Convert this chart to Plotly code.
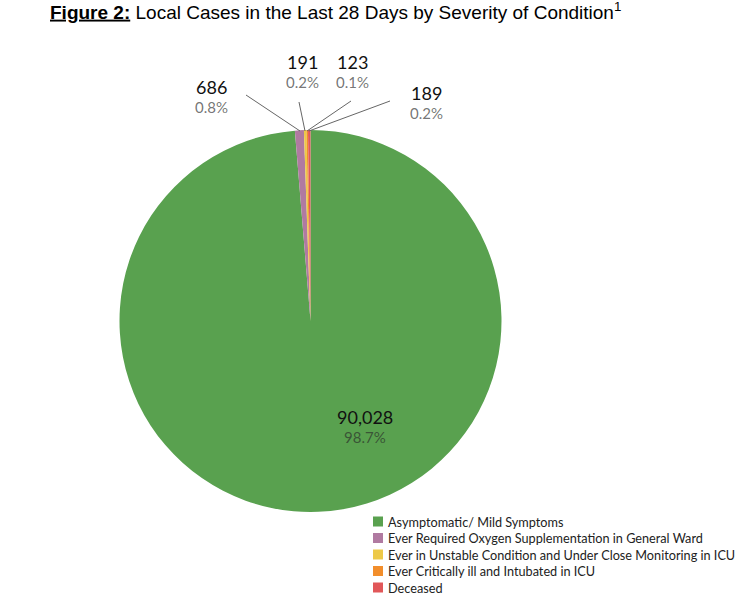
import plotly.graph_objects as go

### data
categories = ["Asymptomatic/ Mild Symptoms",
              "Ever Required Oxygen Supplementation in General Ward",
              "Ever in Unstable Condition and Under Close Monitoring in ICU",
              "Ever Critically ill and Intubated in ICU",
              "Deceased"]
cases = [90028, 686, 191, 123, 189]
colors = ["#59A14F", "#B07AA1", "#EDC948", "#F28E2B", "#E15759"]

W, H = 747, 598
total = sum(cases)

def px(x, y):
    ### pixels -> paper coordinates
    return x / W, 1 - y / H

### define the pie
(dx0, dy0), (dx1, dy1) = px(119.5, 512), px(501.5, 130)
fig = go.Figure(go.Pie(
    labels=categories,
    values=cases,
    marker=dict(colors=colors, line=dict(width=0)),
    sort=False,
    direction="clockwise",
    rotation=0,
    textinfo="none",
    textposition="none",
    hoverinfo="label+value+percent",
    showlegend=False,
    domain=dict(x=[dx0, dx1], y=[dy0, dy1]),
))

### label positions in pixels (number centre x, y) and leader lines
label_pos = [(365, 417), (212, 87), (302, 62), (352, 62), (426, 93)]
line_start = [None, (246, 95), (299, 102), (351, 101), (390, 101)]
line_end = [None, (300, 131), (305, 131), (307, 131), (309, 131)]

for i, (x, y) in enumerate(label_pos):
    pct = 100 * cases[i] / total
    ax, ay = px(x, y)
    fig.add_annotation(x=ax, y=ay, xref="paper", yref="paper",
                       xanchor="center", yanchor="middle",
                       text=f"{cases[i]:,}", showarrow=False,
                       font=dict(family="Lato", size=18, color="#111111"))
    ax, ay = px(x, y + 20)
    fig.add_annotation(x=ax, y=ay, xref="paper", yref="paper",
                       xanchor="center", yanchor="middle",
                       text=f"{pct:.1f}%", showarrow=False,
                       font=dict(family="Lato", size=15, color="rgba(40,40,40,0.65)"))
    if line_start[i] is not None:
        x0, y0 = px(*line_start[i])
        x1, y1 = px(*line_end[i])
        fig.add_shape(type="line", xref="paper", yref="paper",
                      x0=x0, y0=y0, x1=x1, y1=y1,
                      line=dict(color="#666666", width=1))

### legend drawn by hand so the rows can sit as close as in the original
leg_x, leg_y, leg_step = 373, 521.5, 16.5
for i, name in enumerate(categories):
    yc = leg_y + i * leg_step
    x0, y0 = px(leg_x, yc + 5)
    x1, y1 = px(leg_x + 10, yc - 5)
    fig.add_shape(type="rect", xref="paper", yref="paper",
                  x0=x0, y0=y0, x1=x1, y1=y1,
                  fillcolor=colors[i], line=dict(width=0))
    tx, ty = px(leg_x + 13, yc)
    fig.add_annotation(x=tx, y=ty, xref="paper", yref="paper",
                       xanchor="left", yanchor="middle", showarrow=False,
                       text=name, font=dict(family="Lato", size=12.7, color="#222222"))

### layout
tx, ty = px(50, 12)
fig.update_layout(
    width=W, height=H,
    margin=dict(t=0, l=0, r=0, b=0),
    paper_bgcolor="white", plot_bgcolor="white",
    title=dict(text="<b><u>Figure 2:</u></b> Local Cases in the Last 28 Days by Severity of Condition<sup>1</sup>",
               x=tx, xanchor="left", y=ty, yanchor="middle",
               font=dict(family="Liberation Sans", size=19, color="black")),
)

### drop the default 8px body margin so the figure fills the window exactly
fig.write_html("out.html", config={"displayModeBar": False},
               post_script="document.body.style.margin = '0px';")
